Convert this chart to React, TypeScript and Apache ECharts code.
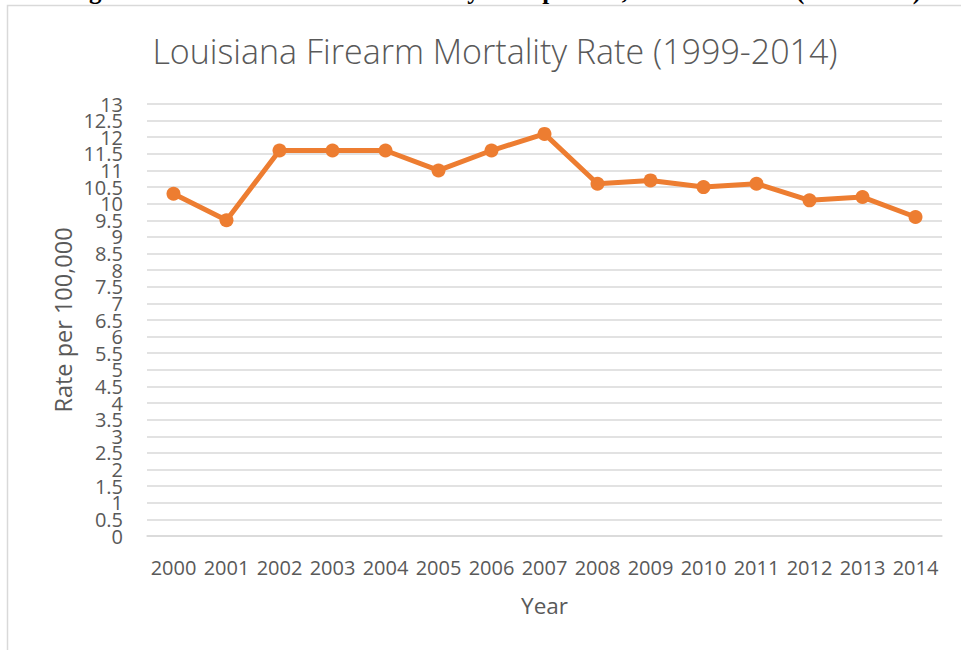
import React, { useEffect, useRef } from "react";
import * as echarts from "echarts";

const years = ["2000","2001","2002","2003","2004","2005","2006","2007","2008","2009","2010","2011","2012","2013","2014"];
const rates = [10.3, 9.5, 11.6, 11.6, 11.6, 11.0, 11.6, 12.1, 10.6, 10.7, 10.5, 10.6, 10.1, 10.2, 9.6];
const yTickLabels = ["0","0.5","1","1.5","2","2.5","3","3.5","4","4.5","5","5.5","6","6.5","7","7.5","8","8.5","9","9.5","10","10.5","11","11.5","12","12.5","13"];
const titleText = "Louisiana Firearm Mortality Rate (1999-2014)";
const captionText = "Figure 3: Louisiana Firearm Mortality Rate per 100,000 individuals (2000-2014)";
const yAxisTitle = "Rate per 100,000";
const xAxisTitle = "Year";

const FONT = "'Open Sans', 'Noto Sans', sans-serif";
const GREY = "#595959";

export default function App() {
  const ref = useRef<HTMLDivElement>(null);
  useEffect(() => {
    if (!ref.current) return;
    const chart = echarts.init(ref.current, null, { renderer: "svg" });
    chart.setOption({
      animation: false,
      backgroundColor: "#ffffff",
      title: {
        text: titleText,
        left: 490,
        top: 29,
        textAlign: "center",
        textStyle: { fontFamily: FONT, fontWeight: 300, fontSize: 34, color: GREY },
      },
      graphic: [
        {
          type: "rect",
          shape: { x: 7.5, y: 5.5, width: 1000, height: 700 },
          style: { fill: "none", stroke: "#d9d9d9", lineWidth: 1.5 },
          silent: true,
        },
        {
          type: "text",
          x: 921,
          y: 3,
          style: {
            text: captionText,
            fontFamily: "'Liberation Serif', 'Times New Roman', serif",
            fontWeight: "bold",
            fontSize: 25,
            fill: "#000000",
            align: "right",
            verticalAlign: "bottom",
          },
          silent: true,
        },
      ],
      grid: { left: 147, right: 19, top: 104, bottom: 114 },
      xAxis: {
        type: "category",
        data: years,
        boundaryGap: true,
        axisLine: { show: true, lineStyle: { color: "#d9d9d9", width: 1.5 } },
        axisTick: { show: false },
        axisLabel: { color: GREY, fontFamily: FONT, fontSize: 20, margin: 21, interval: 0 },
        name: xAxisTitle,
        nameLocation: "middle",
        nameGap: 58,
        nameTextStyle: { color: GREY, fontFamily: FONT, fontSize: 22.5 },
      },
      yAxis: [
        {
          type: "value",
          min: 0,
          max: 13,
          interval: 0.5,
          axisLine: { show: false },
          axisTick: { show: false },
          axisLabel: { show: false },
          splitLine: { lineStyle: { color: "#d9d9d9", width: 1.5 } },
          name: yAxisTitle,
          nameLocation: "middle",
          nameGap: 72,
          nameRotate: 90,
          nameTextStyle: { color: GREY, fontFamily: FONT, fontSize: 23.5 },
        },
        {
          type: "category",
          position: "left",
          data: yTickLabels,
          boundaryGap: false,
          axisLine: { show: false },
          axisTick: { show: false },
          splitLine: { show: false },
          axisLabel: { color: GREY, fontFamily: FONT, fontSize: 20, margin: 24, interval: 0 },
        },
      ],
      series: [
        {
          type: "line",
          yAxisIndex: 0,
          data: rates,
          symbol: "circle",
          symbolSize: 14,
          lineStyle: { color: "#ED7D31", width: 5 },
          itemStyle: { color: "#ED7D31" },
        },
      ],
    });
    return () => chart.dispose();
  }, []);
  return (
    <div
      ref={ref}
      style={{ position: "fixed", left: 0, top: 0, width: 961, height: 650, background: "#fff" }}
    />
  );
}
